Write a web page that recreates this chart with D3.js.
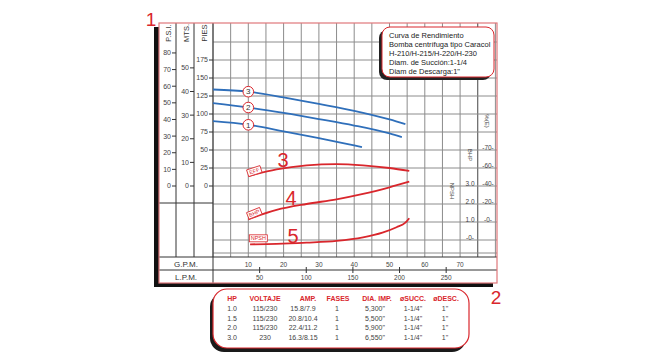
<!DOCTYPE html>
<html>
<head>
<meta charset="utf-8">
<title>Curva de Rendimiento</title>
<script src="https://d3js.org/d3.v7.min.js"></script>
<style>
html, body { margin: 0; padding: 0; background: #fff; }
svg { display: block; font-family: 'Liberation Sans', Arial, sans-serif; }
.grid line { stroke: #8c8c8c; stroke-width: 1; }
.frame line { stroke: #333; stroke-width: 1; }
.lbl { fill: #444; font-size: 7px; }
</style>
</head>
<body>
<script>
// pump curves: head in feet vs flow in GPM
const pump1Gpm = [0, 10, 20, 30, 40, 42.2];
const pump1Ft = [90, 85, 76, 66.5, 56.5, 54];
const pump2Gpm = [0, 10, 20, 30, 40, 50, 53.5];
const pump2Ft = [115, 109, 101.5, 93, 84, 73, 68];
const pump3Gpm = [0, 10, 20, 30, 40, 50, 54.5];
const pump3Ft = [134, 131, 123, 114, 104.5, 92.5, 86];

// red curves
const effGpm = [10, 18, 26.5, 35, 42.5, 50, 55.6];
const effPct = [51, 58.5, 61.5, 62.2, 61.5, 60, 56.7];
const bhpGpm = [10, 18, 26.5, 35, 42.5, 50, 55.6];
const bhpVal = [1.15, 1.67, 2.0, 2.26, 2.56, 2.93, 3.24];
const npshGpm = [10.5, 18, 26.5, 35, 42.5, 48, 52, 54.5, 55.6];
const npshVal = [-0.24, -0.22, -0.15, -0.05, 0.15, 0.41, 0.71, 0.96, 1.21];

// axis ticks
const psiTicks = [0, 10, 20, 30, 40, 50, 60, 70, 80];
const mtsTicks = [0, 10, 20, 30, 40, 50];
const piesTicks = [0, 25, 50, 75, 100, 125, 150, 175];
const gpmTicks = [10, 20, 30, 40, 50, 60, 70];
const lpmTicks = [50, 100, 150, 200, 250];
const effTicks = [70, 60, 40, 20, 0];
const bhpTicks = [3.0, 2.0, 1.0, 0];

const legendLines = ['Curva de Rendimiento', 'Bomba centrífuga tipo Caracol',
  'H-210/H-215/H-220/H-230', 'Diam. de Succión:1-1/4', 'Diam de Descarga:1"'];

const tableHead = ['HP', 'VOLTAJE', 'AMP.', 'FASES', 'DIA. IMP.', 'øSUCC.', 'øDESC.'];
const tableRows = [
  ['1.0', '115/230', '15.8/7.9', '1', '5,300"', '1-1/4"', '1"'],
  ['1.5', '115/230', '20.8/10.4', '1', '5,500"', '1-1/4"', '1"'],
  ['2.0', '115/230', '22.4/11.2', '1', '5,900"', '1-1/4"', '1"'],
  ['3.0', '230', '16.3/8.15', '1', '6,550"', '1-1/4"', '1"']
];

const W = 650, H = 361;
const red = '#d9262c', blue = '#2f6fba';

const svg = d3.select('body').append('svg').attr('width', W).attr('height', H);

// frame geometry
const fx0 = 159, fx1 = 497, fy0 = 23, fy1 = 283;
const gx0 = 213, rowTop = 257, rowMid = 270;

const x = d3.scaleLinear().domain([0, 80]).range([gx0, 495.4]);
const xl = d3.scaleLinear().domain([0, 80 * 3.785]).range([gx0, 495.4]);
const yFt = d3.scaleLinear().domain([0, 200]).range([186, 42]);
const yPsi = d3.scaleLinear().domain([0, 200 / 2.31]).range([186, 42]);
const yMts = d3.scaleLinear().domain([0, 200 / 3.281]).range([186, 42]);
const yEff = d3.scaleLinear().domain([0, 20, 40, 60, 70]).range([222, 204, 186, 168, 150]);
const yBhp = d3.scaleLinear().domain([0, 3]).range([240, 186]);

// shadow + frame
svg.append('rect').attr('x', 154).attr('y', 27).attr('width', fx1 - 154 - 4).attr('height', fy1 + 4 - 27).attr('fill', '#111');
svg.append('rect').attr('x', fx0).attr('y', fy0).attr('width', fx1 - fx0).attr('height', fy1 - fy0).attr('fill', '#fff');

// grid
const grid = svg.append('g').attr('class', 'grid');
grid.selectAll('.v').data(d3.range(0, 81, 5)).enter().append('line')
  .attr('x1', d => x(d)).attr('x2', d => x(d)).attr('y1', fy0).attr('y2', rowTop)
  .style('stroke', d => d === 75 ? '#444' : null);
grid.selectAll('.h').data(d3.range(-75, 201, 25)).enter().append('line')
  .attr('x1', gx0).attr('x2', fx1).attr('y1', d => yFt(d)).attr('y2', d => yFt(d));
grid.append('line').attr('x1', gx0).attr('x2', fx1).attr('y1', 253).attr('y2', 253);

// column frame
const fr = svg.append('g').attr('class', 'frame');
[176, 194].forEach(cx => fr.append('line').attr('x1', cx).attr('x2', cx).attr('y1', fy0).attr('y2', rowTop));
fr.append('line').attr('x1', gx0).attr('x2', gx0).attr('y1', fy0).attr('y2', fy1);
fr.append('line').attr('x1', fx0).attr('x2', gx0).attr('y1', 203).attr('y2', 203);
fr.append('line').attr('x1', fx0).attr('x2', fx1).attr('y1', rowTop).attr('y2', rowTop);
fr.append('line').attr('x1', fx0).attr('x2', fx1).attr('y1', rowMid).attr('y2', rowMid);

svg.append('rect').attr('x', fx0).attr('y', fy0).attr('width', fx1 - fx0).attr('height', fy1 - fy0)
  .attr('fill', 'none').attr('stroke', '#e0777b').attr('stroke-width', 1.2);

// left column headers
[['P.S.I.', 168], ['MTS.', 186], ['PIES', 204]].forEach(([t, cx]) => {
  svg.append('text').attr('class', 'lbl').attr('transform', `translate(${cx},33) rotate(-90)`)
    .attr('text-anchor', 'middle').attr('dy', '0.35em').style('font-size', '7.5px').style('fill', '#333').text(t);
});

function leftTicks(ticks, scale, axisX) {
  const g = svg.append('g');
  g.selectAll('line').data(ticks).enter().append('line')
    .attr('x1', axisX - 4).attr('x2', axisX).attr('y1', d => scale(d)).attr('y2', d => scale(d))
    .attr('stroke', '#333');
  g.selectAll('text').data(ticks).enter().append('text').attr('class', 'lbl')
    .attr('x', axisX - 5).attr('y', d => scale(d)).attr('dy', '0.35em').attr('text-anchor', 'end')
    .text(d => d);
}
leftTicks(psiTicks, yPsi, 176);
leftTicks(mtsTicks, yMts, 194);
leftTicks(piesTicks, yFt, gx0);

// row labels
svg.append('text').attr('class', 'lbl').attr('x', 186).attr('y', 264).attr('dy', '0.35em')
  .attr('text-anchor', 'middle').style('font-size', '8px').style('fill', '#333').text('G.P.M.');
svg.append('text').attr('class', 'lbl').attr('x', 186).attr('y', 277).attr('dy', '0.35em')
  .attr('text-anchor', 'middle').style('font-size', '8px').style('fill', '#333').text('L.P.M.');

// bottom axes
svg.selectAll('.gpmt').data(gpmTicks).enter().append('text').attr('class', 'lbl')
  .attr('x', d => x(d)).attr('y', 264.5).attr('dy', '0.35em').attr('text-anchor', 'middle')
  .style('font-size', '6.5px').text(d => d);
svg.selectAll('.lpmtick').data(lpmTicks).enter().append('line')
  .attr('x1', d => xl(d)).attr('x2', d => xl(d)).attr('y1', 267).attr('y2', 273).attr('stroke', '#333');
svg.selectAll('.lpmt').data(lpmTicks).enter().append('text').attr('class', 'lbl')
  .attr('x', d => xl(d)).attr('y', 277.5).attr('dy', '0.35em').attr('text-anchor', 'middle')
  .style('font-size', '6.5px').text(d => d);

// right axes
svg.selectAll('.efft').data(effTicks).enter().append('text').attr('class', 'lbl')
  .attr('x', 488).attr('y', d => yEff(d) - 2).attr('dy', '0.35em').attr('text-anchor', 'middle')
  .style('font-size', '6.5px').text(d => '-' + d + '-');
svg.selectAll('.bhpt').data(bhpTicks).enter().append('text').attr('class', 'lbl')
  .attr('x', 470).attr('y', d => yBhp(d) - 2).attr('dy', '0.35em').attr('text-anchor', 'middle')
  .style('font-size', '6.5px').text(d => d === 0 ? '-0-' : d.toFixed(1));
[['%(E)', 487, 121], ['BHP', 470, 155], ['NPSH', 452, 191]].forEach(([t, cx, cy]) => {
  svg.append('text').attr('class', 'lbl').attr('transform', `translate(${cx},${cy}) rotate(90)`)
    .attr('text-anchor', 'middle').attr('dy', '0.35em').style('font-size', '6px').text(t);
});

// curves
const line = d3.line().curve(d3.curveMonotoneX);
function drawCurve(xs, ys, yScale, color) {
  const pts = xs.map((g, i) => [x(g), yScale(ys[i])]);
  svg.append('path').attr('d', line(pts)).attr('fill', 'none').attr('stroke', color).attr('stroke-width', 1.8);
}
drawCurve(pump1Gpm, pump1Ft, yFt, blue);
drawCurve(pump2Gpm, pump2Ft, yFt, blue);
drawCurve(pump3Gpm, pump3Ft, yFt, blue);
drawCurve(effGpm, effPct, yEff, red);
drawCurve(bhpGpm, bhpVal, yBhp, red);
drawCurve(npshGpm, npshVal, yBhp, red);

// numbered markers on pump curves
[[pump1Gpm, pump1Ft, '1'], [pump2Gpm, pump2Ft, '2'], [pump3Gpm, pump3Ft, '3']].forEach(([gs, fs, n]) => {
  const cy = yFt(fs[gs.indexOf(10)]);
  svg.append('circle').attr('cx', x(10)).attr('cy', cy).attr('r', 5.3)
    .attr('fill', '#fff').attr('stroke', red).attr('stroke-width', 1);
  svg.append('text').attr('x', x(10)).attr('y', cy).attr('dy', '0.35em').attr('text-anchor', 'middle')
    .style('font-size', '8px').style('fill', '#333').text(n);
});

// small tags on red curves
function tag(t, cx, cy, ang, w) {
  const g = svg.append('g').attr('transform', `translate(${cx},${cy}) rotate(${ang})`);
  g.append('rect').attr('x', -w / 2).attr('y', -3.5).attr('width', w).attr('height', 7)
    .attr('fill', '#fff').attr('stroke', red).attr('stroke-width', 0.8);
  g.append('text').attr('text-anchor', 'middle').attr('dy', '0.35em')
    .style('font-size', '5.5px').style('fill', red).text(t);
}
tag('EFF', x(10) + 6, yEff(effPct[0]) - 5, -18, 14);
tag('BHP', x(10) + 6, yBhp(bhpVal[0]) - 6, -22, 14);
tag('NPSH', x(10) + 10, yBhp(npshVal[0]) - 6, 0, 18);

// big curve numbers
[['3', 283, 160], ['4', 291, 198], ['5', 293, 236]].forEach(([t, cx, cy]) => {
  svg.append('text').attr('x', cx).attr('y', cy).attr('dy', '0.35em').attr('text-anchor', 'middle')
    .style('font-size', '20px').style('fill', red).text(t);
});

// legend box
svg.append('rect').attr('x', 379).attr('y', 30).attr('width', 112).attr('height', 50).attr('rx', 8)
  .attr('fill', '#222');
svg.append('rect').attr('x', 382).attr('y', 27).attr('width', 112).attr('height', 50).attr('rx', 8)
  .attr('fill', '#fff').attr('stroke', red).attr('stroke-width', 1);
svg.selectAll('.leg').data(legendLines).enter().append('text')
  .attr('x', 389).attr('y', (d, i) => 35 + i * 9).attr('dy', '0.35em')
  .style('font-size', '7.5px').style('fill', '#222').text(d => d);

// big red reference numbers
svg.append('text').attr('x', 151).attr('y', 19).attr('dy', '0.35em').attr('text-anchor', 'middle')
  .style('font-size', '19px').style('fill', red).text('1');
svg.append('text').attr('x', 496).attr('y', 297).attr('dy', '0.35em').attr('text-anchor', 'middle')
  .style('font-size', '19px').style('fill', red).text('2');

// spec table
svg.append('rect').attr('x', 210).attr('y', 293).attr('width', 256).attr('height', 59).attr('rx', 14)
  .attr('fill', '#1a1a1a');
svg.append('rect').attr('x', 213).attr('y', 289).attr('width', 256).attr('height', 59).attr('rx', 14)
  .attr('fill', '#fff').attr('stroke', red).attr('stroke-width', 1.2);
const headX = [232, 265, 308, 338, 377, 413, 446];
const cellX = [232, 265, 303, 337, 375, 413, 445];
svg.selectAll('.th').data(tableHead).enter().append('text')
  .attr('x', (d, i) => headX[i]).attr('y', 299).attr('dy', '0.35em').attr('text-anchor', 'middle')
  .style('font-size', '7px').style('font-weight', 'bold').style('fill', red).text(d => d);
tableRows.forEach((r, ri) => {
  svg.selectAll('.tr' + ri).data(r).enter().append('text')
    .attr('x', (d, i) => cellX[i]).attr('y', 309 + ri * 9.5).attr('dy', '0.35em').attr('text-anchor', 'middle')
    .style('font-size', '7px').style('fill', '#444').text(d => d);
});
</script>
</body>
</html>
